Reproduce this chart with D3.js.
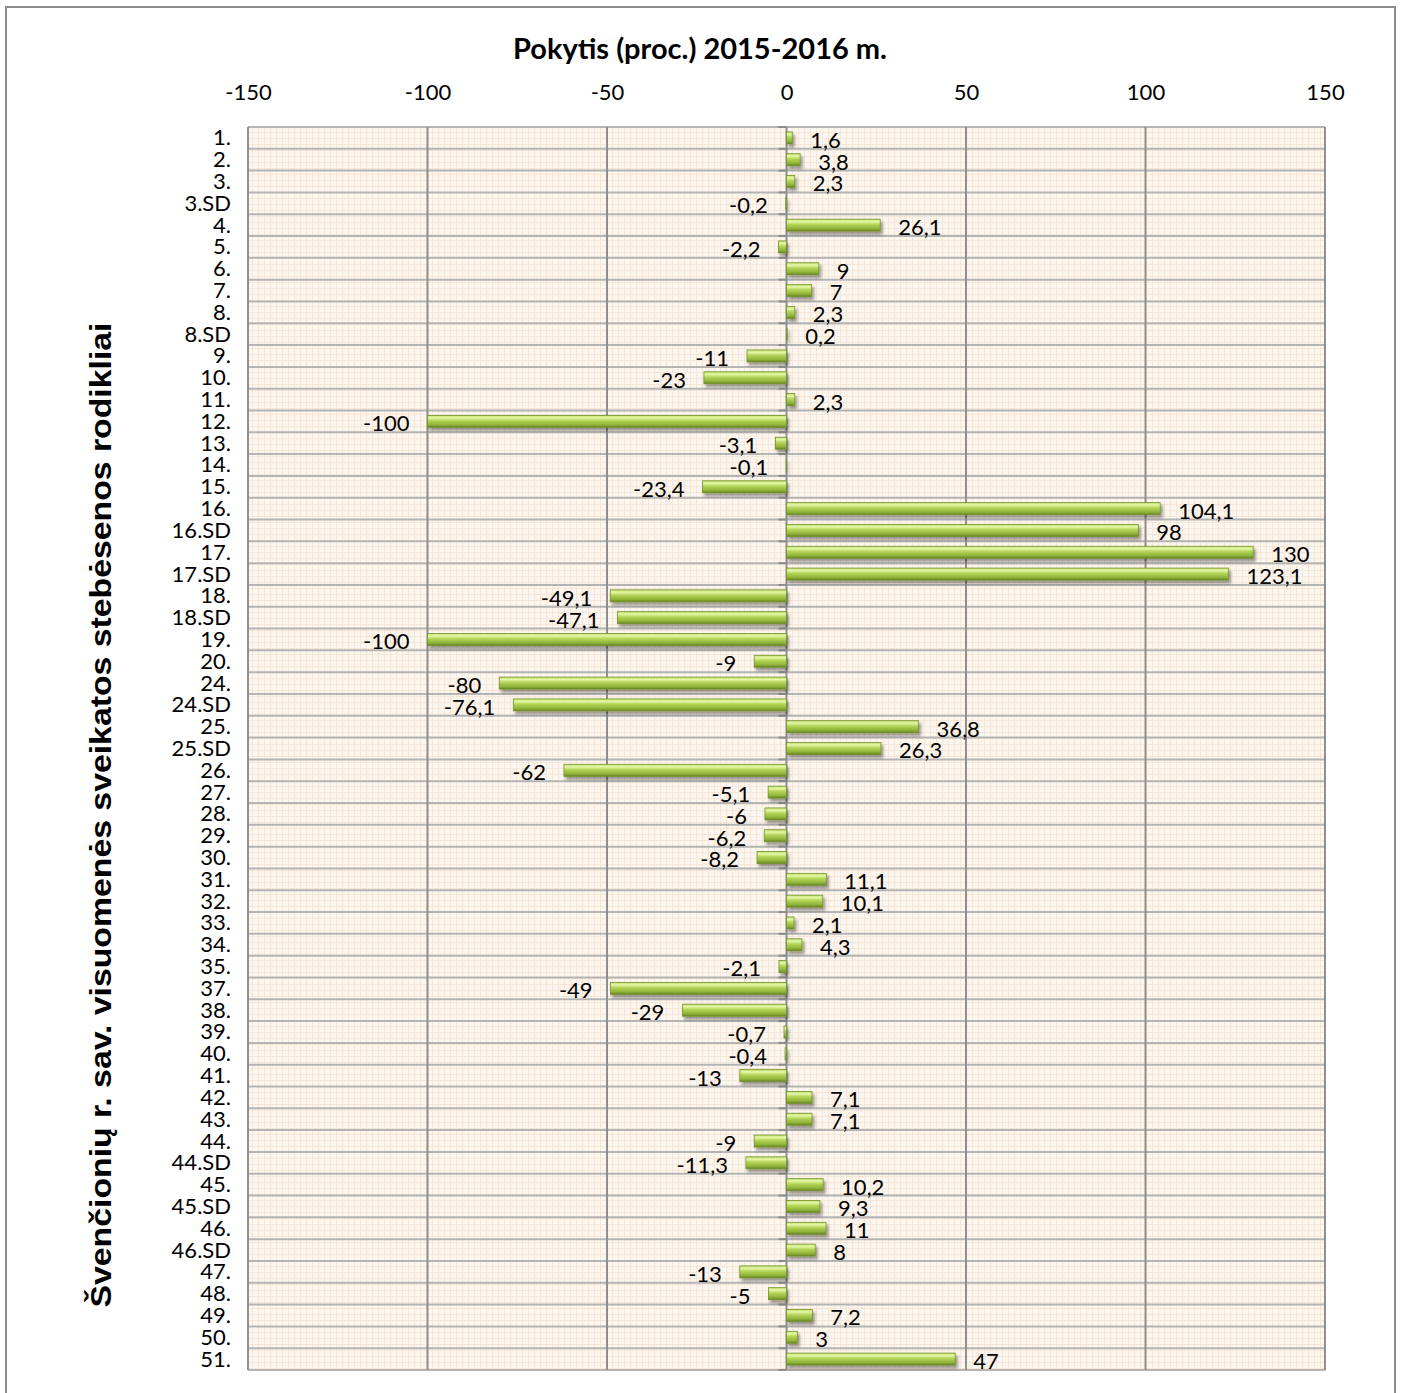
<!DOCTYPE html>
<html>
<head>
<meta charset="utf-8">
<script src="https://cdn.jsdelivr.net/npm/d3@7"></script>
<style>
  body { margin: 0; background: #fff; }
  svg { display: block; }
</style>
</head>
<body>
<svg id="chart" width="1404" height="1393"></svg>
<script>
const categories = ['1.', '2.', '3.', '3.SD', '4.', '5.', '6.', '7.', '8.', '8.SD',
    '9.', '10.', '11.', '12.', '13.', '14.', '15.', '16.', '16.SD', '17.',
    '17.SD', '18.', '18.SD', '19.', '20.', '24.', '24.SD', '25.', '25.SD', '26.',
    '27.', '28.', '29.', '30.', '31.', '32.', '33.', '34.', '35.', '37.',
    '38.', '39.', '40.', '41.', '42.', '43.', '44.', '44.SD', '45.', '45.SD',
    '46.', '46.SD', '47.', '48.', '49.', '50.', '51.']

const values = [1.6, 3.8, 2.3, -0.2, 26.1, -2.2, 9, 7, 2.3, 0.2,
    -11, -23, 2.3, -100, -3.1, -0.1, -23.4, 104.1, 98, 130,
    123.1, -49.1, -47.1, -100, -9, -80, -76.1, 36.8, 26.3, -62,
    -5.1, -6, -6.2, -8.2, 11.1, 10.1, 2.1, 4.3, -2.1, -49,
    -29, -0.7, -0.4, -13, 7.1, 7.1, -9, -11.3, 10.2, 9.3,
    11, 8, -13, -5, 7.2, 3, 47]

const xTicks = [-150, -100, -50, 0, 50, 100, 150]

const title = 'Pokytis (proc.) 2015-2016 m.'
const yTitle = 'Švenčionių r. sav. visuomenės sveikatos stebėsenos rodikliai'

const plot = { left: 248, right: 1325, top: 127, bottom: 1370 }
const labelFont = 'Lato, "Open Sans", sans-serif'

const lt = d3.formatLocale({ decimal: ',', thousands: ' ', grouping: [3], currency: ['', ''] })
const fmt = v => lt.format('~r')(v).replace('−', '-')

const svg = d3.select('#chart')
const defs = svg.append('defs')

// paper-like background texture
const pat = defs.append('pattern')
    .attr('id', 'paper')
    .attr('width', 6).attr('height', 6)
    .attr('patternUnits', 'userSpaceOnUse')
pat.append('rect').attr('width', 6).attr('height', 6).attr('fill', '#fdf6ee')
pat.append('path').attr('d', 'M0 0.5H6M0.5 0V6')
    .attr('stroke', '#f4e6d8').attr('stroke-width', 1)

const grad = defs.append('linearGradient')
    .attr('id', 'barGrad')
    .attr('x1', 0).attr('y1', 0).attr('x2', 0).attr('y2', 1)
grad.append('stop').attr('offset', '0%').attr('stop-color', '#c3df6e')
grad.append('stop').attr('offset', '20%').attr('stop-color', '#e4f7a6')
grad.append('stop').attr('offset', '45%').attr('stop-color', '#b2d456')
grad.append('stop').attr('offset', '80%').attr('stop-color', '#8fb23a')
grad.append('stop').attr('offset', '100%').attr('stop-color', '#647f22')

const shadow = defs.append('filter').attr('id', 'shadow')
    .attr('x', '-10%').attr('y', '-50%').attr('width', '130%').attr('height', '250%')
shadow.append('feDropShadow')
    .attr('dx', 2).attr('dy', 3).attr('stdDeviation', 1.6)
    .attr('flood-color', '#000').attr('flood-opacity', 0.4)

// outer chart border
svg.append('rect')
    .attr('x', 6).attr('y', 7)
    .attr('width', 1389).attr('height', 1400)
    .attr('fill', 'none').attr('stroke', '#8c8c8c').attr('stroke-width', 2)

const x = d3.scaleLinear().domain([-150, 150]).range([plot.left, plot.right])
const y = d3.scaleBand().domain(categories).range([plot.top, plot.bottom]).paddingInner(0).paddingOuter(0)

svg.append('rect')
    .attr('x', plot.left).attr('y', plot.top)
    .attr('width', plot.right - plot.left).attr('height', plot.bottom - plot.top)
    .attr('fill', 'url(#paper)')

// horizontal grid at category boundaries
const hLines = categories.map(c => y(c)).concat([plot.bottom])
svg.append('g').selectAll('line')
    .data(hLines)
    .enter().append('line')
    .attr('x1', plot.left).attr('x2', plot.right)
    .attr('y1', d => d).attr('y2', d => d)
    .attr('stroke', '#b4b4b4').attr('stroke-width', 2)

// small ticks on the value-zero axis
svg.append('g').selectAll('line')
    .data(hLines)
    .enter().append('line')
    .attr('x1', x(0) - 8).attr('x2', x(0))
    .attr('y1', d => d).attr('y2', d => d)
    .attr('stroke', '#8c8c8c').attr('stroke-width', 2)

// vertical grid
svg.append('g').selectAll('line')
    .data(xTicks)
    .enter().append('line')
    .attr('x1', d => x(d)).attr('x2', d => x(d))
    .attr('y1', plot.top).attr('y2', plot.bottom)
    .attr('stroke', '#8f8f8f').attr('stroke-width', 2)

// top axis labels
const xAxis = d3.axisTop(x).tickValues(xTicks).tickSize(0).tickPadding(0)
    .tickFormat(d => String(d))
const gx = svg.append('g')
    .attr('transform', `translate(0,${plot.top - 27})`)
    .call(xAxis)
gx.select('.domain').remove()
gx.selectAll('text')
    .attr('font-family', labelFont).attr('font-size', 22).attr('fill', '#000')

// category labels
const yAxis = d3.axisLeft(y).tickSize(0).tickPadding(0)
const gy = svg.append('g')
    .attr('transform', `translate(${plot.left - 17},0)`)
    .call(yAxis)
gy.select('.domain').remove()
gy.selectAll('text')
    .attr('font-family', labelFont).attr('font-size', 22).attr('fill', '#000')
    .attr('dy', '0.34em')

// bars
const barH = y.bandwidth() * 0.55
const data = categories.map((c, i) => ({ cat: c, v: values[i] }))

svg.append('g').attr('filter', 'url(#shadow)')
    .selectAll('rect')
    .data(data)
    .enter().append('rect')
    .attr('x', d => x(Math.min(0, d.v)))
    .attr('width', d => Math.abs(x(d.v) - x(0)))
    .attr('y', d => y(d.cat) + (y.bandwidth() - barH) / 2)
    .attr('height', barH)
    .attr('fill', 'url(#barGrad)')
    .attr('stroke', '#72922a').attr('stroke-width', 0.8)

// data labels
svg.append('g').selectAll('text')
    .data(data)
    .enter().append('text')
    .attr('x', d => d.v >= 0 ? x(d.v) + 18 : x(d.v) - 18)
    .attr('y', d => y(d.cat) + y.bandwidth() / 2 + 2)
    .attr('dy', '0.36em')
    .attr('text-anchor', d => d.v >= 0 ? 'start' : 'end')
    .attr('font-family', labelFont).attr('font-size', 22).attr('fill', '#000')
    .text(d => fmt(d.v))

svg.append('text')
    .attr('x', 700).attr('y', 59)
    .attr('text-anchor', 'middle')
    .attr('font-family', labelFont).attr('font-weight', 'bold').attr('font-size', 29)
    .text(title)

svg.append('text')
    .attr('transform', `translate(111,815) rotate(-90)`)
    .attr('text-anchor', 'middle')
    .attr('font-family', '"Liberation Sans", Arial, sans-serif')
    .attr('font-weight', 'bold').attr('font-size', 29)
    .attr('textLength', 985).attr('lengthAdjust', 'spacingAndGlyphs')
    .text(yTitle)
</script>
</body>
</html>
